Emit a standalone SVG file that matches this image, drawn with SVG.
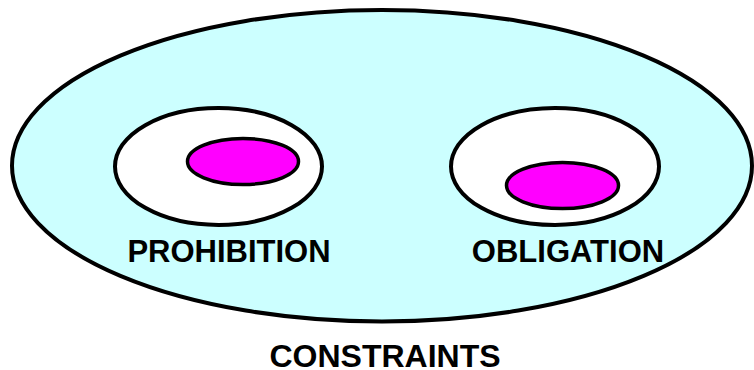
<svg xmlns="http://www.w3.org/2000/svg" width="754" height="370" viewBox="0 0 754 370">
<style>
.ln{stroke:#000;stroke-width:4}
.in{stroke:#000;stroke-width:3.5}
.lbl{font-family:"Liberation Sans",Arial,sans-serif;font-weight:bold;text-anchor:middle;fill:#000}
</style>
<rect width="754" height="370" fill="#fff"/>
<g id="constraints">
<ellipse cx="382" cy="165.75" rx="370" ry="155.75" fill="#CCFFFF" class="ln"/>
<text x="385" y="366.5" class="lbl" font-size="32">CONSTRAINTS</text>
</g>
<g id="prohibition">
<ellipse cx="218.5" cy="166.5" rx="103.5" ry="58.5" fill="#fff" class="ln"/>
<text x="229" y="261.7" class="lbl" font-size="31">PROHIBITION</text>
</g>
<g id="prohibition-core">
<ellipse cx="243" cy="161.5" rx="55.5" ry="23" fill="#FF00FF" class="in"/>
</g>
<g id="obligation">
<ellipse cx="555" cy="166.5" rx="104" ry="58.5" fill="#fff" class="ln"/>
<text x="568" y="261.7" class="lbl" font-size="31">OBLIGATION</text>
</g>
<g id="obligation-core">
<ellipse cx="562.5" cy="185.5" rx="56" ry="23" fill="#FF00FF" class="in"/>
</g>
<g id="connectors"/>
</svg>
